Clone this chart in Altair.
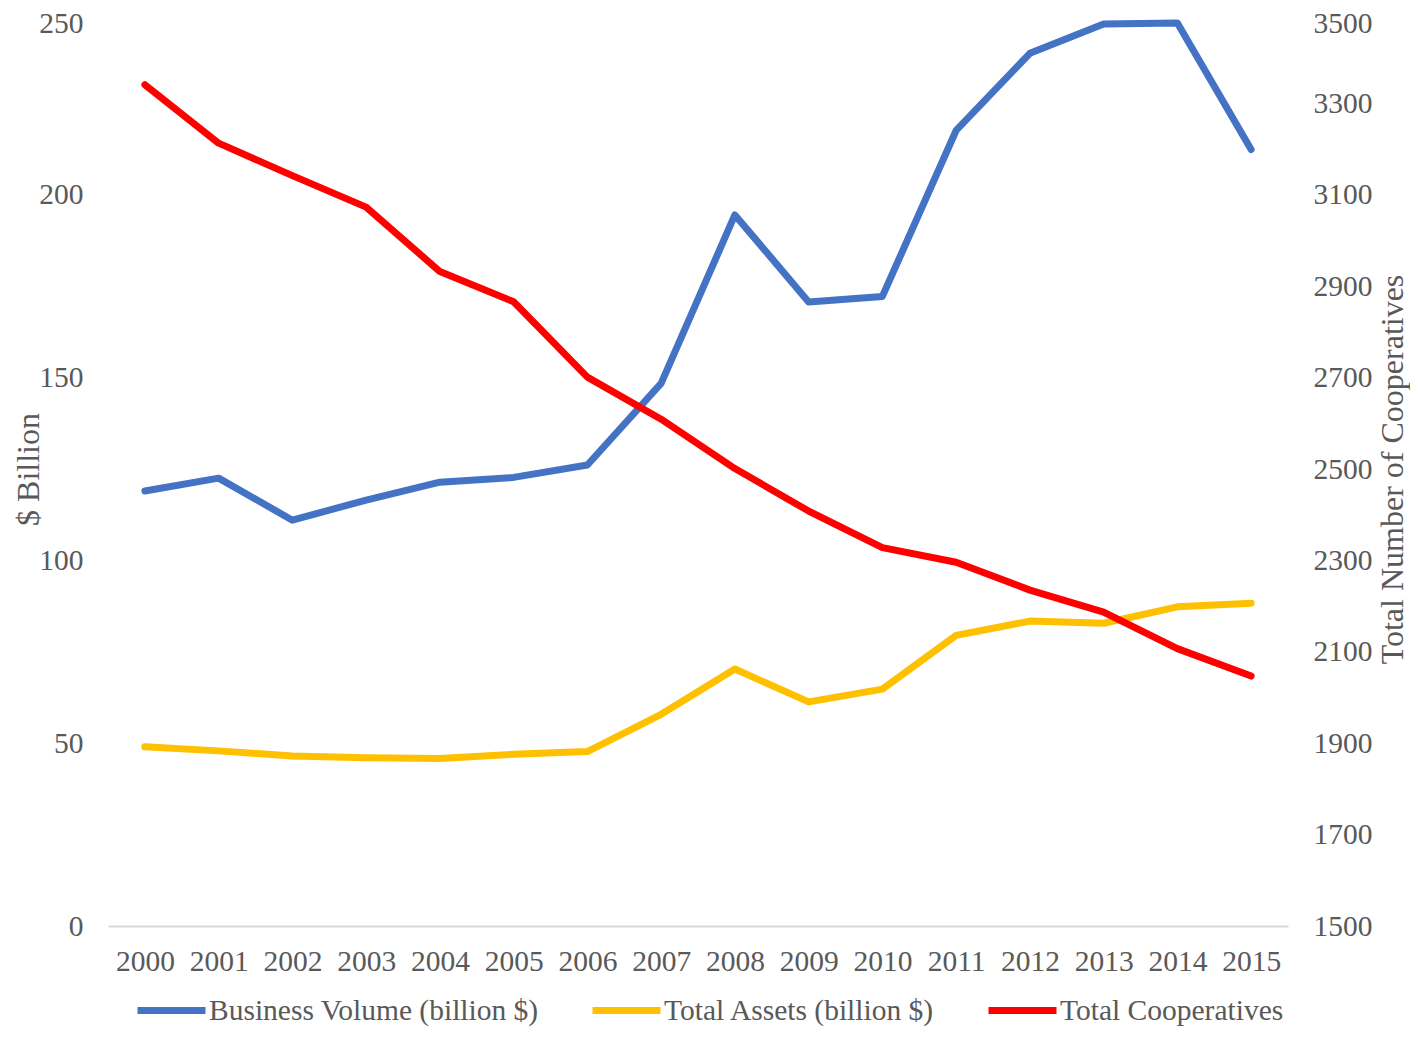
import altair as alt
import pandas as pd

years = [str(y) for y in range(2000, 2016)]
business_volume = [119.0, 122.5, 111.0, 116.5, 121.4, 122.7, 126.1, 148.4, 194.5, 170.7, 172.2, 217.6, 238.7, 246.7, 247.0, 212.4]
total_assets = [49.0, 47.9, 46.5, 46.0, 45.8, 47.0, 47.7, 57.9, 70.3, 61.3, 64.8, 79.5, 83.4, 82.8, 87.3, 88.3]
total_coops = [3341, 3213, 3142, 3073, 2932, 2866, 2701, 2609, 2501, 2408, 2328, 2296, 2235, 2187, 2107, 2047]

series_names = ["Business Volume (billion $)", "Total Assets (billion $)", "Total Cooperatives"]
series_colors = ["#4472C4", "#FFC000", "#FF0000"]
left_ticks = [0, 50, 100, 150, 200, 250]
right_ticks = list(range(1500, 3501, 200))

rows = []
for name, vals in zip(series_names, [business_volume, total_assets, total_coops]):
    for yr, v in zip(years, vals):
        rows.append({"year": yr, "series": name, "value": v})
df = pd.DataFrame(rows)

FONT = "Liberation Serif"
GREY = "#595959"

x_enc = alt.X("year:O", scale=alt.Scale(type="point", padding=0.5),
              axis=alt.Axis(title=None, labelAngle=0, ticks=False, domainColor="#D9D9D9",
                            domainWidth=2, labelPadding=21, grid=False))
color_enc = alt.Color("series:N", scale=alt.Scale(domain=series_names, range=series_colors),
                      legend=alt.Legend(title=None, orient="none", legendX=26, legendY=961,
                                        direction="horizontal", symbolType="stroke",
                                        symbolSize=4624, symbolStrokeWidth=7,
                                        labelOffset=0, columnPadding=39, padding=0))

left = alt.Chart(df).transform_filter(
    alt.FieldOneOfPredicate(field="series", oneOf=series_names[:2])
).mark_line(strokeWidth=7, strokeCap="round", strokeJoin="round").encode(
    x=x_enc,
    y=alt.Y("value:Q", scale=alt.Scale(domain=[0, 250], nice=False),
            axis=alt.Axis(title="$ Billion", values=left_ticks, format="d", ticks=False,
                          domain=False, grid=False, labelPadding=25, titleAngle=270,
                          labelOffset={"condition": {"test": "datum.value == 250", "value": 11}, "value": 0},
                          titleX=-80, titleY=457, titleAlign="center", titleBaseline="middle")),
    color=color_enc,
    detail="series:N",
)

right = alt.Chart(df).transform_filter(
    alt.FieldEqualPredicate(field="series", equal=series_names[2])
).mark_line(strokeWidth=7, strokeCap="round", strokeJoin="round").encode(
    x=x_enc,
    y=alt.Y("value:Q", scale=alt.Scale(domain=[1500, 3500], nice=False),
            axis=alt.Axis(title="Total Number of Cooperatives", orient="right",
                          values=right_ticks, format="d", ticks=False,
                          domain=False, grid=False, labelPadding=25, titleAngle=270,
                          labelOffset={"condition": {"test": "datum.value == 3500", "value": 11}, "value": 0},
                          titleX=104, titleY=457, titleAlign="center", titleBaseline="middle")),
    color=color_enc,
)

chart = alt.layer(left, right).resolve_scale(y="independent").properties(
    width=1180, height=914,
    autosize=alt.AutoSizeParams(type="none"),
    padding={"left": 100, "top": 4, "right": 122, "bottom": 104},
).configure_view(stroke=None).configure_axis(
    labelFont=FONT, labelFontSize=29.5, labelColor=GREY,
    titleFont=FONT, titleFontSize=32, titleColor=GREY, titleFontWeight="normal",
).configure_legend(
    labelFont=FONT, labelFontSize=29.5, labelColor=GREY, labelLimit=0,
)

chart.save("out.html", embed_options={"renderer": "svg", "actions": False})
